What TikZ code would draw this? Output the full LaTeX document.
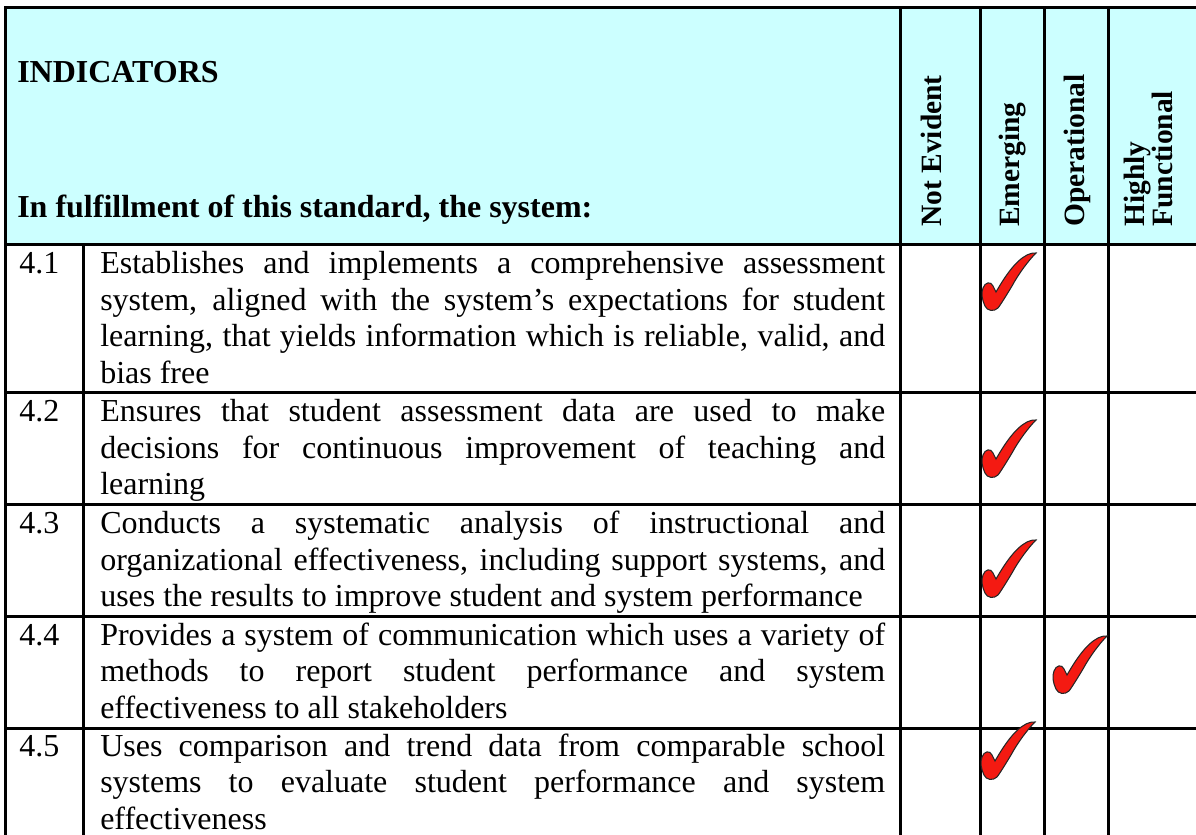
\documentclass[tikz,border=0pt]{standalone}
\usepackage{fontspec}
\setmainfont{Liberation Serif}
\definecolor{hdrcyan}{HTML}{CCFFFF}
\definecolor{tickred}{HTML}{F41A12}
\begin{document}
\begin{tikzpicture}[x=0.75pt,y=-0.75pt,
  grid/.style={line width=2.25pt, black},
  hdr/.style={font=\fontsize{24}{27.4}\selectfont\bfseries, inner sep=0pt, anchor=base west},
  vhdr/.style={font=\fontsize{22.1}{25}\selectfont\bfseries, inner sep=0pt, anchor=base west, rotate=90},
  num/.style={font=\fontsize{24}{27.4}\selectfont, inner sep=0pt, anchor=base west},
  body/.style={font=\fontsize{24}{27.4}\selectfont, inner sep=0pt, anchor=base west,
    text width=588.75pt, align=justify},
  checkmark/.pic={
    \path[fill=tickred, draw=black!85, line width=0.8pt]
      (54,0) .. controls (47,7) and (37,20) .. (30,33)
      .. controls (24,43) and (19,51) .. (16,55)
      .. controls (12,59) and (5,58) .. (3,53)
      .. controls (0,47) and (-1,40) .. (1,35)
      .. controls (3,29) and (9,28) .. (11,33)
      .. controls (12,35) and (13,37) .. (14,39)
      .. controls (22,25) and (33,8) .. (45,2)
      .. controls (49,0.3) and (52,-0.5) .. (54,0) -- cycle;
  }]
\useasboundingbox (0,0) rectangle (1196,835);
% header background
\fill[hdrcyan] (5,7) rectangle (1200,244);
% grid lines
\draw[grid] (5,840) -- (5,7) -- (1200,7);
\draw[grid] (83,244) -- (83,840);
\foreach \xx in {900,980,1044,1108} \draw[grid] (\xx,7) -- (\xx,840);
\foreach \yy in {244,392,504,616,728} \draw[grid] (5,\yy) -- (1200,\yy);
% header texts
\node[hdr] (ind) at (17,82) {INDICATORS};
\node[hdr] (ful) at (17,217) {In fulfillment of this standard, the system:};
\node[vhdr] (ne) at (941.5,227) {Not Evident};
\node[vhdr] (em) at (1019,227) {Emerging};
\node[vhdr] (op) at (1084.5,227) {Operational};
\node[vhdr] (hi) at (1144.5,227) {Highly};
\node[vhdr] (fu) at (1172.5,227) {Functional};
% numbers
\node[num] (n1) at (19,273.5) {4.1};
\node[num] (n2) at (19,421.5) {4.2};
\node[num] (n3) at (19,533.5) {4.3};
\node[num] (n4) at (19,645) {4.4};
\node[num] (n5) at (19,756) {4.5};
% body texts
\node[body] (t1) at (100,273.5) {Establishes and implements a comprehensive assessment\linebreak system, aligned with the system’s expectations for student\linebreak learning, that yields information which is reliable, valid, and\linebreak bias free};
\node[body] (t2) at (100,421.5) {Ensures that student assessment data are used to make\linebreak decisions for continuous improvement of teaching and\linebreak learning};
\node[body] (t3) at (100,533.5) {Conducts a systematic analysis of instructional and\linebreak organizational effectiveness, including support systems, and\linebreak uses the results to improve student and system performance};
\node[body] (t4) at (100,645) {Provides a system of communication which uses a variety of\linebreak methods to report student performance and system\linebreak effectiveness to all stakeholders};
\node[body] (t5) at (100,756) {Uses comparison and trend data from comparable school\linebreak systems to evaluate student performance and system\linebreak effectiveness};
% check marks
\pic (c1) at (982,253) {checkmark};
\pic (c2) at (982,420) {checkmark};
\pic (c3) at (982,540) {checkmark};
\pic (c4) at (1053,636) {checkmark};
\pic (c5) at (981,722) {checkmark};
\end{tikzpicture}
\end{document}
